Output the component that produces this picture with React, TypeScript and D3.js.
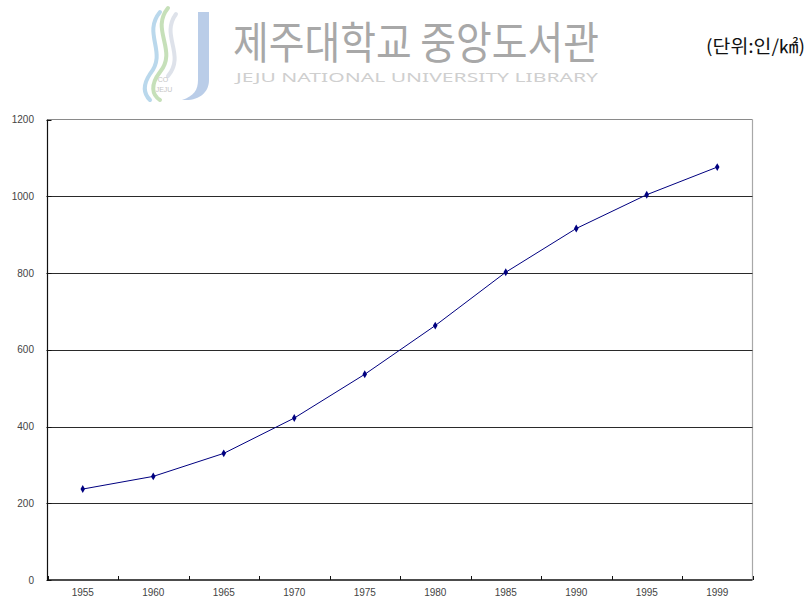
import React from "react";
import * as d3 from "d3";

// Population density by census year (persons per km²)
const years = ["1955", "1960", "1965", "1970", "1975", "1980", "1985", "1990", "1995", "1999"];
const density = [237, 270, 330, 422, 536, 663, 802, 916, 1004, 1076];
const yTicks = [0, 200, 400, 600, 800, 1000, 1200];

const W = 811;
const H = 601;
const plot = { left: 47.5, right: 752.5, top: 119.5, bottom: 580 };

export default function App() {
  const x = d3.scaleBand<string>().domain(years).range([plot.left, plot.right]).paddingInner(0).paddingOuter(0);
  const y = d3.scaleLinear().domain([0, 1200]).range([plot.bottom, plot.top]);
  const cx = (d: string) => (x(d) ?? 0) + x.bandwidth() / 2;

  const line = d3
    .line<number>()
    .x((_, i) => cx(years[i]))
    .y((v) => y(v));

  const diamond = d3.symbol().type(d3.symbolDiamond).size(18)();

  const bandEdges = years.map((d) => x(d) ?? 0).concat([plot.right]);

  return (
    <svg
      width={W}
      height={H}
      style={{ position: "absolute", left: 0, top: 0, background: "#fff" }}
      fontFamily="Arial, 'Liberation Sans', sans-serif"
    >
      {/* library watermark */}
      <g opacity={0.8}>
        <path d="M168,8 C150,30 178,50 160,72 C150,85 152,95 160,100" fill="none" stroke="#b9d9a8" strokeWidth={4} strokeLinecap="round" />
        <path d="M160,12 C142,34 168,52 150,74 C142,86 144,94 150,100" fill="none" stroke="#a9cfe8" strokeWidth={4} strokeLinecap="round" />
        <path d="M176,14 C160,36 186,54 168,76" fill="none" stroke="#d6dce6" strokeWidth={4} strokeLinecap="round" />
        <path d="M198,12 L209,12 L209,80 C209,92 200,100 186,100 L182,100 C194,96 198,90 198,80 Z" fill="#a9c1e3" />
        <text x={163} y={82} fontSize={7} fill="#b8b8b8" textAnchor="middle">CO</text>
        <text x={164} y={92} fontSize={7} fill="#b8b8b8" textAnchor="middle">JEJU</text>
      </g>
      <text
        x={233}
        y={59}
        fontFamily="'Noto Sans CJK KR', sans-serif"
        fontSize={44}
        fill="#a8a8a8"
        textLength={366}
        lengthAdjust="spacingAndGlyphs"
      >
        제주대학교 중앙도서관
      </text>
      <text
        x={236}
        y={82}
        fontFamily="'Noto Sans', sans-serif"
        fontSize={13}
        fill="#cfcfcf"
        textLength={362}
        lengthAdjust="spacingAndGlyphs"
      >
        JEJU NATIONAL UNIVERSITY LIBRARY
      </text>

      {/* unit label */}
      <text
        x={706}
        y={53}
        fontFamily="'Noto Sans CJK KR', 'DejaVu Serif', serif"
        fontSize={18}
        fill="#111"
        textLength={99}
        lengthAdjust="spacingAndGlyphs"
      >
        (단위:인/㎢)
      </text>

      {/* plot frame */}
      <line x1={plot.left} x2={plot.right} y1={plot.top} y2={plot.top} stroke="#8a8a8a" />
      <line x1={plot.right} x2={plot.right} y1={plot.top} y2={plot.bottom} stroke="#a8a8a8" strokeWidth={1.2} />

      {/* horizontal gridlines */}
      {yTicks.slice(1, -1).map((t) => (
        <line key={t} x1={plot.left} x2={plot.right} y1={Math.round(y(t)) + 0.5} y2={Math.round(y(t)) + 0.5} stroke="#2a2a2a" />
      ))}

      {/* y axis */}
      <line x1={plot.left} x2={plot.left} y1={plot.top} y2={plot.bottom} stroke="#111" strokeWidth={1.2} />
      {yTicks.map((t) => (
        <g key={t}>
          <line x1={plot.left - 1} x2={plot.left + 4} y1={Math.round(y(t)) + 0.5} y2={Math.round(y(t)) + 0.5} stroke="#111" />
          <text x={34} y={y(t) + 3.5} fontSize={10} fill="#444" textAnchor="end">
            {t}
          </text>
        </g>
      ))}

      {/* x axis */}
      <line x1={plot.left} x2={plot.right} y1={plot.bottom} y2={plot.bottom} stroke="#111" strokeWidth={1.5} />
      {bandEdges.map((e, i) => (
        <line key={i} x1={Math.round(e) + 0.5} x2={Math.round(e) + 0.5} y1={plot.bottom} y2={plot.bottom - 4} stroke="#111" />
      ))}
      {years.map((d) => (
        <text key={d} x={cx(d)} y={596} fontSize={10} fill="#444" textAnchor="middle">
          {d}
        </text>
      ))}

      {/* series */}
      <path d={line(density) ?? ""} fill="none" stroke="#000080" strokeWidth={1} />
      {density.map((v, i) => (
        <path key={i} d={diamond ?? ""} transform={`translate(${cx(years[i])},${y(v)})`} fill="#000080" />
      ))}
    </svg>
  );
}
